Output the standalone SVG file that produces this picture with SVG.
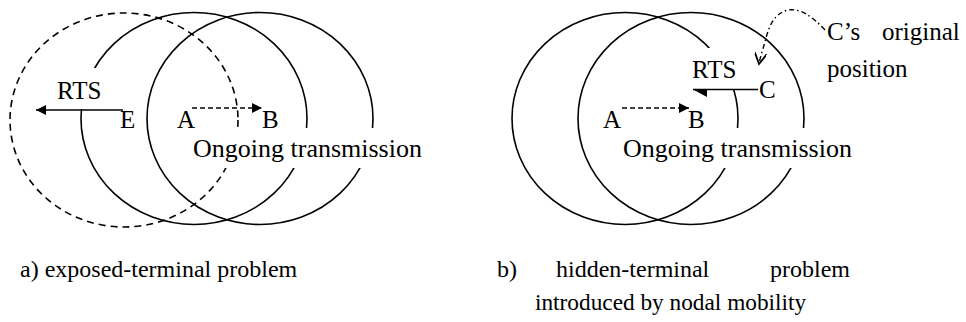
<svg xmlns="http://www.w3.org/2000/svg" width="966" height="322" viewBox="0 0 966 322">
<defs>
<marker id="tri" viewBox="0 0 10 10" refX="10" refY="5" markerWidth="14" markerHeight="10" markerUnits="userSpaceOnUse" orient="auto">
<path d="M0,0 L10,5 L0,10 z" fill="#000"/>
</marker>
<marker id="vee" viewBox="0 0 10 10" refX="9" refY="5" markerWidth="14" markerHeight="12" markerUnits="userSpaceOnUse" orient="auto">
<path d="M0,0 L9,5 L0,10" fill="none" stroke="#000" stroke-width="1.5"/>
</marker>
</defs>

<g id="panel-a" fill="none" stroke="#000" stroke-width="1.6">
<g id="range-E"><ellipse cx="124" cy="120" rx="114" ry="107" stroke-dasharray="7 5"/></g>
<g id="range-A"><ellipse cx="194" cy="118.5" rx="113" ry="106"/></g>
<g id="range-B"><ellipse cx="260" cy="118.5" rx="113" ry="106"/></g>
<rect x="48" y="68" width="60" height="41" fill="#fff" stroke="none"/>
<rect x="190" y="128" width="240" height="40" fill="#fff" stroke="none"/>
</g>

<g id="panel-b" fill="none" stroke="#000" stroke-width="1.6">
<g id="range-A2"><ellipse cx="625" cy="118.5" rx="113" ry="106"/></g>
<g id="range-B2"><ellipse cx="691" cy="118.5" rx="113" ry="106"/></g>
<rect x="686" y="48" width="56" height="41" fill="#fff" stroke="none"/>
<rect x="620" y="128" width="240" height="40" fill="#fff" stroke="none"/>
</g>

<g id="connectors" fill="none" stroke="#000" stroke-width="1.6">
<line x1="123" y1="110" x2="36" y2="110" marker-end="url(#tri)"/>
<line x1="192" y1="108" x2="262" y2="108" stroke-dasharray="5 3" marker-end="url(#tri)"/>
<line x1="622" y1="108" x2="689" y2="108" stroke-dasharray="5 3" marker-end="url(#tri)"/>
<line x1="758" y1="89.5" x2="693" y2="89.5"/>
<path d="M693,89.5 L707,89.5 L707,97 z" fill="#000" stroke="none"/>
<path d="M825,30 C812,16 800,8 788,10 C772,14 768,30 765,42 C762,52 760,58 759,64" stroke-width="1.4" stroke-dasharray="5 3 1.5 3" marker-end="url(#vee)"/>
</g>

<g id="labels-a">
<g id="node-RTS-a"><text x="57" y="99" style="font-family:'Liberation Serif';font-size:25px">RTS</text></g>
<g id="node-E"><text x="120" y="128" style="font-family:'Liberation Serif';font-size:25px">E</text></g>
<g id="node-A"><text x="177" y="128" style="font-family:'Liberation Serif';font-size:25px">A</text></g>
<g id="node-B"><text x="262" y="128" style="font-family:'Liberation Serif';font-size:25px">B</text></g>
<g id="label-ongoing-a"><text x="193" y="157" style="font-family:'Liberation Serif';font-size:26px">Ongoing transmission</text></g>
</g>

<g id="labels-b">
<g id="node-RTS-b"><text x="692" y="78" style="font-family:'Liberation Serif';font-size:25px">RTS</text></g>
<g id="node-C"><text x="759" y="98" style="font-family:'Liberation Serif';font-size:25px">C</text></g>
<g id="node-A2"><text x="603" y="128" style="font-family:'Liberation Serif';font-size:25px">A</text></g>
<g id="node-B2"><text x="688" y="128" style="font-family:'Liberation Serif';font-size:25px">B</text></g>
<g id="label-ongoing-b"><text x="623" y="157" style="font-family:'Liberation Serif';font-size:26px">Ongoing transmission</text></g>
<g id="label-orig"><text x="827" y="40" style="font-family:'Liberation Serif';font-size:25px">C&#8217;s</text><text x="882" y="40" style="font-family:'Liberation Serif';font-size:25px">original</text><text x="827" y="77" style="font-family:'Liberation Serif';font-size:25px">position</text></g>
</g>

<g id="captions">
<text x="20" y="277" style="font-family:'Liberation Serif';font-size:24px">a) exposed-terminal problem</text>
<text x="497" y="277" style="font-family:'Liberation Serif';font-size:24px">b)</text>
<text x="556" y="277" style="font-family:'Liberation Serif';font-size:24px">hidden-terminal</text>
<text x="770" y="277" style="font-family:'Liberation Serif';font-size:24px">problem</text>
<text x="535" y="310" style="font-family:'Liberation Serif';font-size:23.3px">introduced by nodal mobility</text>
</g>
</svg>
